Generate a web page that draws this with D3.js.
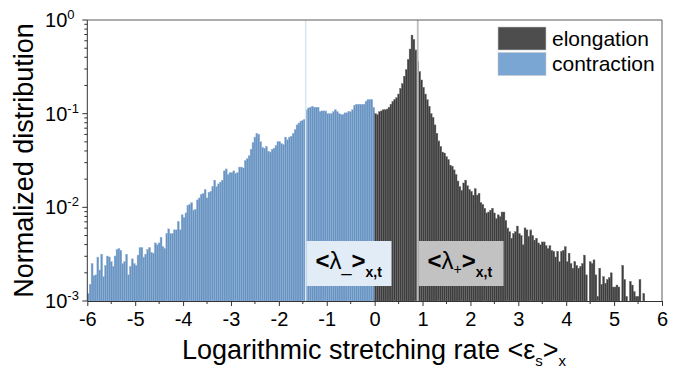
<!DOCTYPE html>
<html>
<head>
<meta charset="utf-8">
<script src="https://cdn.jsdelivr.net/npm/d3@7"></script>
<style>
  body { margin: 0; background: #fff; }
  svg { display: block; font-family: Arial, "Liberation Sans", sans-serif; }
</style>
</head>
<body>
<svg id="chart" width="688" height="369"></svg>
<script>
// histogram bins: left edge of first bin and bin width (log stretching rate)
const BIN_START = -6;
const BIN_WIDTH = 0.04;

// contraction: bins from -6 up to 0
const contraction = [
  0.0012, 0.00151, 0.00251, 0.00186, 0.0019, 0.00295, 0.00214, 0.00316, 0.00182, 0.0024,
  0.00302, 0.00295, 0.00263, 0.00234, 0.00302, 0.00355, 0.00363, 0.00347, 0.00251, 0.00263,
  0.00316, 0.0019, 0.00234, 0.00282, 0.00251, 0.0024, 0.00309, 0.00372, 0.00372, 0.00295,
  0.00316, 0.00355, 0.00372, 0.00331, 0.00324, 0.00417, 0.00398, 0.00417, 0.00479, 0.0038,
  0.00363, 0.00525, 0.00589, 0.00525, 0.00525, 0.00575, 0.00575, 0.00708, 0.00575, 0.00832,
  0.00776, 0.00871, 0.0105, 0.0107, 0.0112, 0.00933, 0.00955, 0.012, 0.0126, 0.0138,
  0.0141, 0.0155, 0.0126, 0.0145, 0.0148, 0.0166, 0.0195, 0.0166, 0.0178, 0.0186,
  0.0195, 0.0245, 0.0257, 0.0224, 0.0234, 0.0234, 0.0245, 0.0229, 0.0234, 0.0269,
  0.0269, 0.0263, 0.0316, 0.0331, 0.0355, 0.0417, 0.049, 0.0562, 0.0617, 0.0603,
  0.0501, 0.0437, 0.0427, 0.0447, 0.0398, 0.0389, 0.0417, 0.0427, 0.0457, 0.0501,
  0.0501, 0.0479, 0.0468, 0.0562, 0.0525, 0.0562, 0.0575, 0.0617, 0.0676, 0.0759,
  0.0794, 0.0832, 0.0851, 0.0871, 0.11, 0.115, 0.117, 0.12, 0.117, 0.117,
  0.117, 0.105, 0.107, 0.107, 0.107, 0.1, 0.1, 0.1, 0.105, 0.11,
  0.105, 0.1, 0.0977, 0.0977, 0.102, 0.102, 0.105, 0.105, 0.11, 0.123,
  0.126, 0.126, 0.126, 0.126, 0.126, 0.135, 0.141, 0.141, 0.141, 0.117
];

// elongation: bins from 0 upwards (0 = empty bin)
const elongation = [
  0.1, 0.0977, 0.105, 0.107, 0.11, 0.11, 0.112, 0.117, 0.126, 0.135,
  0.141, 0.148, 0.162, 0.186, 0.209, 0.251, 0.295, 0.38, 0.49, 0.69,
  0.62, 0.48, 0.363, 0.282, 0.229, 0.191, 0.162, 0.141, 0.12, 0.1,
  0.0912, 0.0759, 0.0617, 0.0513, 0.0447, 0.0389, 0.038, 0.0347, 0.0324, 0.0282,
  0.0275, 0.0251, 0.0224, 0.0191, 0.0166, 0.0151, 0.0182, 0.0195, 0.017, 0.0155,
  0.0148, 0.0135, 0.0158, 0.0135, 0.0141, 0.0112, 0.0107, 0.00977, 0.00871, 0.00891,
  0.00933, 0.00977, 0.00871, 0.00759, 0.00832, 0.00794, 0.00891, 0.00891, 0.00724, 0.00603,
  0.0055, 0.00468, 0.00525, 0.0055, 0.00631, 0.00525, 0.00501, 0.00398, 0.00603, 0.00575,
  0.0049, 0.00575, 0.00501, 0.00447, 0.00468, 0.00417, 0.00398, 0.00427, 0.00427, 0.00389,
  0.00363, 0.00389, 0.00347, 0.00339, 0.00295, 0.00339, 0.00263, 0.00339, 0.00347, 0.0038,
  0.00263, 0.00324, 0.00251, 0.00224, 0.00263, 0.0024, 0.00224, 0.00234, 0.00251, 0.00309,
  0.0019, 0, 0.00263, 0.00251, 0.00275, 0.0019, 0.00112, 0.00224, 0.00151, 0.00182,
  0.00155, 0.0017, 0.00178, 0.002, 0.00141, 0.00141, 0.00148, 0.00141, 0, 0.0024,
  0.0017, 0.00112, 0, 0.00162, 0.00148, 0.00126, 0.00112, 0.00112, 0.0017, 0, 0.0012
];

// time/space averaged Lyapunov exponents
const meanContraction = -1.44;
const meanElongation = 0.9;

const xTickValues = [-6, -5, -4, -3, -2, -1, 0, 1, 2, 3, 4, 5, 6];
const xMinorValues = [-5.5, -4.5, -3.5, -2.5, -1.5, -0.5, 0.5, 1.5, 2.5, 3.5, 4.5, 5.5];
const yDecades = [1e-3, 1e-2, 1e-1, 1];
const yDecadeLabels = ['-3', '-2', '-1', '0'];

const svg = d3.select('#chart');
const plotLeft = 87.3, plotRight = 662, plotTop = 20, plotBottom = 301;

const x = d3.scaleLinear().domain([-6, 6]).range([plotLeft, plotRight]);
const y = d3.scaleLog().domain([1e-3, 1]).range([plotBottom, plotTop]);

// bars
function drawBars(values, firstBin, fill, stroke, cls) {
  const bins = values.map((v, i) => ({ x0: BIN_START + (firstBin + i) * BIN_WIDTH, v }))
    .filter((d) => d.v > 1e-3);
  svg.append('g').attr('class', cls)
    .selectAll('rect')
    .data(bins)
    .enter()
    .append('rect')
    .attr('x', (d) => x(d.x0))
    .attr('width', (d) => x(d.x0 + BIN_WIDTH) - x(d.x0))
    .attr('y', (d) => y(d.v))
    .attr('height', (d) => y(1e-3) - y(d.v))
    .attr('fill', fill)
    .attr('stroke', stroke)
    .attr('stroke-width', 0.4);
}
drawBars(contraction, 0, '#6892c0', '#8fb2d8', 'contraction');
drawBars(elongation, contraction.length, '#3d3d3d', '#6e6e6e', 'elongation');

// mean lines
svg.append('line')
  .attr('x1', x(meanContraction)).attr('x2', x(meanContraction))
  .attr('y1', plotTop).attr('y2', plotBottom)
  .attr('stroke', '#dbe8f4').attr('stroke-width', 1.6);
svg.append('line')
  .attr('x1', x(meanElongation)).attr('x2', x(meanElongation))
  .attr('y1', plotTop).attr('y2', plotBottom)
  .attr('stroke', '#bdbdbd').attr('stroke-width', 1.8);

// label boxes
function lambdaBox(xv, fill, sub, subSize, subDy) {
  const g = svg.append('g').attr('transform', `translate(${x(xv) + 0.8},241)`);
  g.append('rect').attr('width', 85).attr('height', 45).attr('fill', fill);
  const t = g.append('text').attr('x', 9).attr('y', 28).attr('font-size', 24).attr('fill', '#000');
  t.append('tspan').attr('font-weight', 'bold').text('<');
  t.append('tspan').text('λ');
  t.append('tspan').attr('font-size', subSize).attr('dy', subDy).text(sub);
  t.append('tspan').attr('font-weight', 'bold').attr('dy', -subDy).text('>');
  t.append('tspan').attr('font-weight', 'bold').attr('font-size', 14).attr('dy', 8).text('x,t');
}
lambdaBox(meanContraction, '#e1ecf6', '_', 18, 2);
lambdaBox(meanElongation, '#c2c2c2', '+', 14, 5);

// frame
svg.append('path')
  .attr('d', `M${plotLeft},${plotTop}H${plotRight}V${plotBottom}`)
  .attr('fill', 'none').attr('stroke', '#5a5a5a').attr('stroke-width', 1);

// x axis
const xAxis = svg.append('g').attr('transform', `translate(0,${plotBottom})`)
  .call(d3.axisBottom(x).tickValues(xTickValues).tickSize(5).tickPadding(6)
    .tickSizeOuter(0).tickFormat((d) => String(d)));
xAxis.select('.domain').attr('stroke', '#333');
xAxis.selectAll('.tick line').attr('stroke', '#333');
xAxis.selectAll('.tick text').attr('font-size', 20).attr('fill', '#000')
  .attr('font-family', 'Arial, "Liberation Sans", sans-serif');
svg.append('g').attr('transform', `translate(0,${plotBottom})`)
  .selectAll('line').data(xMinorValues).enter().append('line')
  .attr('x1', (d) => x(d)).attr('x2', (d) => x(d))
  .attr('y1', 0).attr('y2', 3).attr('stroke', '#333');

// y axis
const yMinor = [];
yDecades.slice(0, -1).forEach((d) => {
  for (let k = 2; k < 10; k++) yMinor.push(d * k);
});
const yAxis = svg.append('g').attr('transform', `translate(${plotLeft},0)`);
yAxis.append('line').attr('y1', plotTop).attr('y2', plotBottom).attr('stroke', '#333');
yAxis.selectAll('line.major').data(yDecades).enter().append('line')
  .attr('class', 'major').attr('x1', -5).attr('x2', 0)
  .attr('y1', (d) => y(d)).attr('y2', (d) => y(d)).attr('stroke', '#333');
yAxis.selectAll('line.minor').data(yMinor).enter().append('line')
  .attr('class', 'minor').attr('x1', -3).attr('x2', 0)
  .attr('y1', (d) => y(d)).attr('y2', (d) => y(d)).attr('stroke', '#333');
yAxis.selectAll('text.base').data(yDecades).enter().append('text')
  .attr('class', 'base').attr('x', -20).attr('y', (d) => y(d) + 7)
  .attr('text-anchor', 'end').attr('font-size', 20).text('10');
yAxis.selectAll('text.exp').data(yDecades).enter().append('text')
  .attr('class', 'exp').attr('x', -20).attr('y', (d) => y(d) - 1)
  .attr('font-size', 13).text((d, i) => yDecadeLabels[i]);

// axis titles
const xt = svg.append('text').attr('x', 374).attr('y', 359)
  .attr('text-anchor', 'middle').attr('font-size', 27);
xt.append('tspan').text('Logarithmic stretching rate <ε');
xt.append('tspan').attr('font-size', 15).attr('dy', 7).text('s');
xt.append('tspan').attr('dy', -7).text('>');
xt.append('tspan').attr('font-size', 15).attr('dy', 7).text('x');

svg.append('text')
  .attr('transform', `translate(33,${(plotTop + plotBottom) / 2}) rotate(-90)`)
  .attr('text-anchor', 'middle').attr('font-size', 27)
  .text('Normalized distribution');

// legend
const legend = svg.append('g').attr('transform', 'translate(498,27)');
const legendItems = [
  { label: 'elongation', color: '#4d4d4d' },
  { label: 'contraction', color: '#7aa6d4' },
];
legendItems.forEach((d, i) => {
  legend.append('rect').attr('x', 0).attr('y', i * 25.5).attr('width', 48).attr('height', 23)
    .attr('fill', d.color).attr('stroke', '#c8c8c8').attr('stroke-width', 0.6);
  legend.append('text').attr('x', 54).attr('y', i * 25.5 + 18.5)
    .attr('font-size', 21).text(d.label);
});
</script>
</body>
</html>
